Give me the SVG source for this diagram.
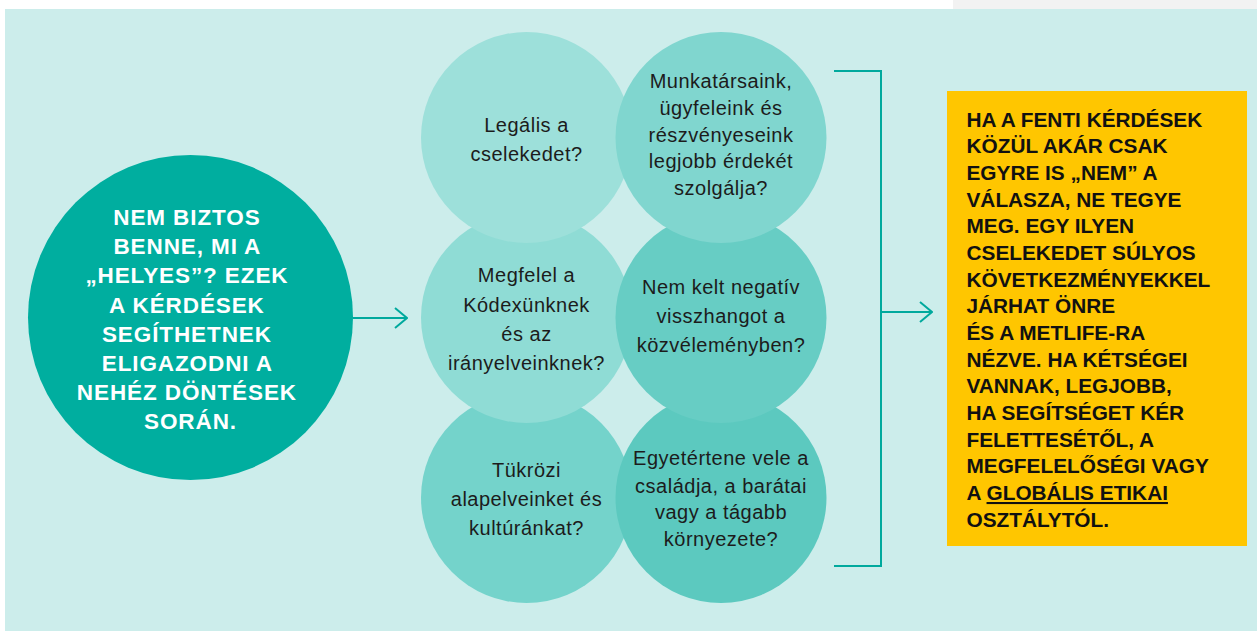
<svg xmlns="http://www.w3.org/2000/svg" width="1257" height="631" viewBox="0 0 1257 631">
<defs>
<style>
.q{font-family:"Liberation Sans",Arial,sans-serif;font-size:20px;letter-spacing:0.5px;fill:#1c1c1c;text-anchor:middle}
.big{font-family:"Liberation Sans",Arial,sans-serif;font-size:22.5px;font-weight:bold;letter-spacing:0.9px;fill:#ffffff;text-anchor:middle}
.ybox{font-family:"Liberation Sans",Arial,sans-serif;font-size:20.8px;font-weight:bold;fill:#111111}
.conn{fill:none;stroke:#00A99D;stroke-width:2}
</style>
<marker id="chev" viewBox="0 0 14 22" refX="13" refY="11" markerWidth="14" markerHeight="22" markerUnits="userSpaceOnUse" orient="auto">
<path d="M1,1 L13,11 L1,21" fill="none" stroke="#00A99D" stroke-width="2"/>
</marker>
</defs>
<rect x="0" y="0" width="1257" height="631" fill="#ffffff"/>
<rect x="953" y="0" width="304" height="9" fill="#f2f2f2"/>
<rect x="5" y="9" width="1252" height="622" fill="#CCEDEB"/>

<g id="start">
<circle cx="190.5" cy="317.5" r="162.5" fill="#00AE9F"/>
<text class="big">
<tspan x="190.5" y="225">NEM BIZTOS</tspan>
<tspan x="190.5" y="254.2">BENNE, MI A</tspan>
<tspan x="190.5" y="283.4">„HELYES”? EZEK</tspan>
<tspan x="190.5" y="312.6">A KÉRDÉSEK</tspan>
<tspan x="190.5" y="341.8">SEGÍTHETNEK</tspan>
<tspan x="190.5" y="371">ELIGAZODNI A</tspan>
<tspan x="190.5" y="400.2">NEHÉZ DÖNTÉSEK</tspan>
<tspan x="190.5" y="429.4">SORÁN.</tspan>
</text>
</g>

<g id="q5">
<circle cx="526.5" cy="497.5" r="105.5" fill="#74D3CB"/>
<text class="q"><tspan x="526.5" y="477.3">Tükrözi</tspan><tspan x="526.5" y="506">alapelveinket és</tspan><tspan x="526.5" y="535">kultúránkat?</tspan></text>
</g>
<g id="q6">
<circle cx="721" cy="497.5" r="105.5" fill="#5CC9BF"/>
<text class="q"><tspan x="721" y="465">Egyetértene vele a</tspan><tspan x="721" y="492.7">családja, a barátai</tspan><tspan x="721" y="519.3">vagy a tágabb</tspan><tspan x="721" y="546">környezete?</tspan></text>
</g>
<g id="q3">
<circle cx="526.5" cy="317.5" r="105.5" fill="#8FDCD5"/>
<text class="q"><tspan x="526.5" y="282.3">Megfelel a</tspan><tspan x="526.5" y="311.7">Kódexünknek</tspan><tspan x="526.5" y="340.7">és az</tspan><tspan x="526.5" y="369.5">irányelveinknek?</tspan></text>
</g>
<g id="q4">
<circle cx="721" cy="317.5" r="105.5" fill="#67CDC4"/>
<text class="q"><tspan x="721" y="294">Nem kelt negatív</tspan><tspan x="721" y="322.7">visszhangot a</tspan><tspan x="721" y="351.7">közvéleményben?</tspan></text>
</g>
<g id="q1">
<circle cx="526.5" cy="137.5" r="105.5" fill="#9DE0DA"/>
<text class="q"><tspan x="526.5" y="132.3">Legális a</tspan><tspan x="526.5" y="160.7">cselekedet?</tspan></text>
</g>
<g id="q2">
<circle cx="721" cy="137.5" r="105.5" fill="#80D6CF"/>
<text class="q"><tspan x="721" y="88.3">Munkatársaink,</tspan><tspan x="721" y="115">ügyfeleink és</tspan><tspan x="721" y="141.7">részvényeseink</tspan><tspan x="721" y="168.3">legjobb érdekét</tspan><tspan x="721" y="195">szolgálja?</tspan></text>
</g>

<g id="connectors">
<line class="conn" x1="353" y1="318" x2="407" y2="318" marker-end="url(#chev)"/>
<path class="conn" d="M834,71 H881 V566 H834"/>
<line class="conn" x1="881" y1="312" x2="932" y2="312" marker-end="url(#chev)"/>
</g>

<g id="result">
<rect x="947" y="91" width="300" height="455" fill="#FFC600"/>
<text class="ybox">
<tspan x="966.5" y="126.7">HA A FENTI KÉRDÉSEK</tspan>
<tspan x="966.5" y="153.4">KÖZÜL AKÁR CSAK</tspan>
<tspan x="966.5" y="180">EGYRE IS „NEM” A</tspan>
<tspan x="966.5" y="206.7">VÁLASZA, NE TEGYE</tspan>
<tspan x="966.5" y="233.4">MEG. EGY ILYEN</tspan>
<tspan x="966.5" y="260">CSELEKEDET SÚLYOS</tspan>
<tspan x="966.5" y="286.7">KÖVETKEZMÉNYEKKEL</tspan>
<tspan x="966.5" y="313.4">JÁRHAT ÖNRE</tspan>
<tspan x="966.5" y="340">ÉS A METLIFE-RA</tspan>
<tspan x="966.5" y="366.7">NÉZVE. HA KÉTSÉGEI</tspan>
<tspan x="966.5" y="393.4">VANNAK, LEGJOBB,</tspan>
<tspan x="966.5" y="420">HA SEGÍTSÉGET KÉR</tspan>
<tspan x="966.5" y="446.7">FELETTESÉTŐL, A</tspan>
<tspan x="966.5" y="473.4">MEGFELELŐSÉGI VAGY</tspan>
<tspan x="966.5" y="500">A <tspan style="text-decoration:underline">GLOBÁLIS ETIKAI</tspan></tspan>
<tspan x="966.5" y="526.7">OSZTÁLYTÓL.</tspan>
</text>
</g>
</svg>
